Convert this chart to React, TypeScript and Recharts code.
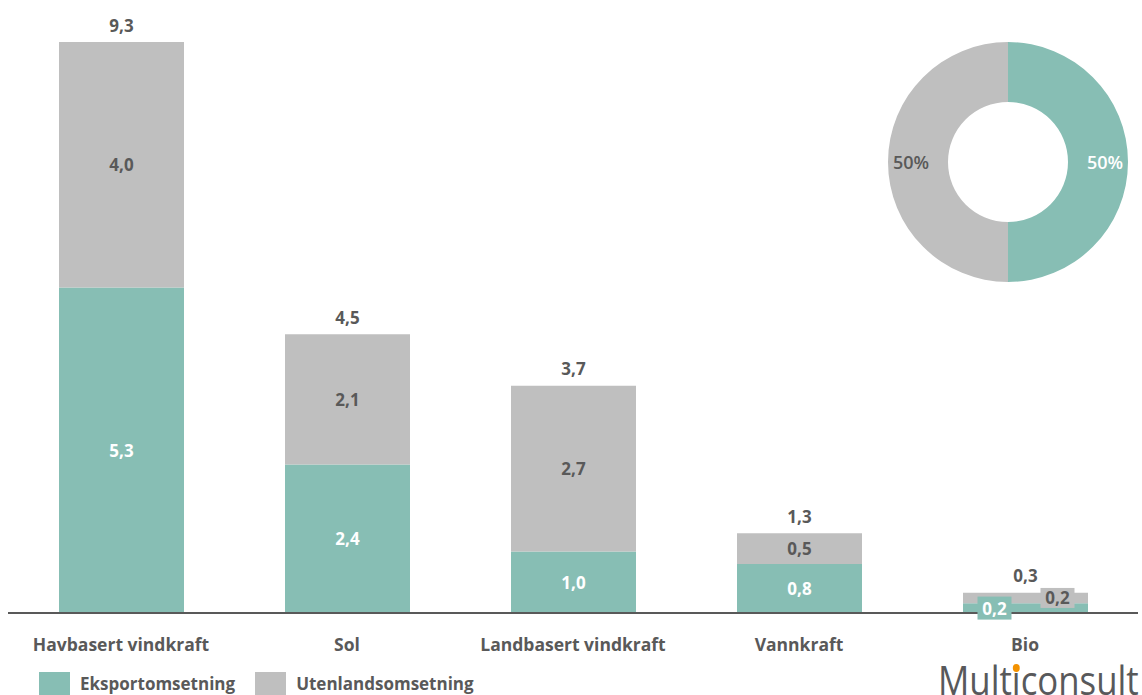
import React from 'react';
import { BarChart, Bar, XAxis, YAxis, LabelList, PieChart, Pie, Cell } from 'recharts';

const categories = ['Havbasert vindkraft', 'Sol', 'Landbasert vindkraft', 'Vannkraft', 'Bio'];
const eksport = [5.3, 2.42, 1.0, 0.8, 0.16];
const utenlands = [4.0, 2.12, 2.7, 0.5, 0.17];
const seriesNames = ['Eksportomsetning', 'Utenlandsomsetning'];
const shareValues = [50, 50];

const GREEN = '#87BEB4';
const GRAY = '#BFBFBF';
const TEXT = '#595959';
const FONT = '"Open Sans", sans-serif';

const data = categories.map((name, i) => ({
  name,
  eksport: eksport[i],
  utenlands: utenlands[i],
  total: eksport[i] + utenlands[i],
}));

const shareData = seriesNames.map((name, i) => ({ name, value: shareValues[i] }));

const fmt = (v: number) => Number(v).toFixed(1).replace('.', ',');

const SegLabel = (fill: string, textColor: string, dx: number, boxH: number) => (props: any) => {
  const { x, y, width, height, value } = props;
  const cx = x + width / 2;
  const cy = y + height / 2;
  if (height < 20) {
    const bx = cx + dx;
    return (
      <g>
        <rect x={bx - 17} y={cy - boxH / 2} width={34} height={boxH} fill={fill} />
        <text x={bx} y={cy} textAnchor="middle" dominantBaseline="central" fill={textColor}
          fontFamily={FONT} fontWeight={700} fontSize={17}>{fmt(value)}</text>
      </g>
    );
  }
  return (
    <text x={cx} y={cy} textAnchor="middle" dominantBaseline="central" fill={textColor}
      fontFamily={FONT} fontWeight={700} fontSize={17}>{fmt(value)}</text>
  );
};

const TotalLabel = (props: any) => {
  const { x, y, width, value } = props;
  return (
    <text x={x + width / 2} y={y - 17} textAnchor="middle" dominantBaseline="central" fill={TEXT}
      fontFamily={FONT} fontWeight={700} fontSize={17}>{fmt(value)}</text>
  );
};

const Tick = (props: any) => {
  const { x, y, payload } = props;
  return (
    <text x={x} y={y + 23} textAnchor="middle" dominantBaseline="central" fill={TEXT}
      fontFamily={FONT} fontWeight={700} fontSize={17.5}>{payload.value}</text>
  );
};

const RAD = Math.PI / 180;
const PieLabel = (props: any) => {
  const { cx, cy, midAngle, index, value } = props;
  const r = 97;
  const x = cx + r * Math.cos(-midAngle * RAD);
  const y = cy + r * Math.sin(-midAngle * RAD);
  return (
    <text x={x} y={y} textAnchor="middle" dominantBaseline="central"
      fill={index === 0 ? '#FFFFFF' : TEXT} fontFamily={FONT} fontWeight={600} fontSize={18}>
      {`${value}%`}
    </text>
  );
};

export default function App() {
  return (
    <div style={{ position: 'absolute', left: 0, top: 0, width: 1142, height: 695, background: '#fff', overflow: 'hidden' }}>
      <BarChart width={1142} height={695} data={data}
        margin={{ top: 42, right: 4, left: 8, bottom: 0 }}>
        <YAxis hide domain={[0, 9.3]} />
        <XAxis dataKey="name" height={82} tickLine={false} interval={0}
          axisLine={{ stroke: TEXT, strokeWidth: 2 }} tick={<Tick />} />
        <Bar dataKey="eksport" stackId="a" fill={GREEN} barSize={125} isAnimationActive={false}>
          <LabelList dataKey="eksport" content={SegLabel(GREEN, '#FFFFFF', -31, 23)} />
        </Bar>
        <Bar dataKey="utenlands" stackId="a" fill={GRAY} barSize={125} isAnimationActive={false}>
          <LabelList dataKey="utenlands" content={SegLabel(GRAY, TEXT, 32, 20)} />
          <LabelList dataKey="total" content={TotalLabel} />
        </Bar>
      </BarChart>

      <div style={{ position: 'absolute', left: 878, top: 32 }}>
        <PieChart width={260} height={260} margin={{ top: 0, right: 0, bottom: 0, left: 0 }}>
          <Pie data={shareData} dataKey="value" cx={130} cy={130} innerRadius={60} outerRadius={120}
            startAngle={90} endAngle={-270} stroke="none" labelLine={false} label={PieLabel}
            isAnimationActive={false}>
            <Cell fill={GREEN} />
            <Cell fill={GRAY} />
          </Pie>
        </PieChart>
      </div>

      <div style={{ position: 'absolute', left: 39, top: 672, display: 'flex', alignItems: 'center',
        fontFamily: FONT, fontWeight: 700, fontSize: 17, lineHeight: '22px', color: TEXT }}>
        <span style={{ width: 31, height: 24, background: GREEN, display: 'inline-block', marginRight: 10 }} />
        <span style={{ marginRight: 20 }}>{seriesNames[0]}</span>
        <span style={{ width: 31, height: 24, background: GRAY, display: 'inline-block', marginRight: 10 }} />
        <span>{seriesNames[1]}</span>
      </div>

      <div style={{ position: 'absolute', left: 938, top: 660, fontFamily: FONT, fontSize: 40,
        color: '#58595B', whiteSpace: 'nowrap', lineHeight: '40px', transform: 'scaleX(0.87)',
        transformOrigin: 'left top' }}>
        Mult
        <span style={{ position: 'relative' }}>
          i
          <span style={{ position: 'absolute', left: '50%', top: 12, width: 8, height: 8, marginLeft: -4,
            borderRadius: '50%', background: '#F39200', boxShadow: '0 0 0 1px #fff' }} />
        </span>
        consult
      </div>
    </div>
  );
}
